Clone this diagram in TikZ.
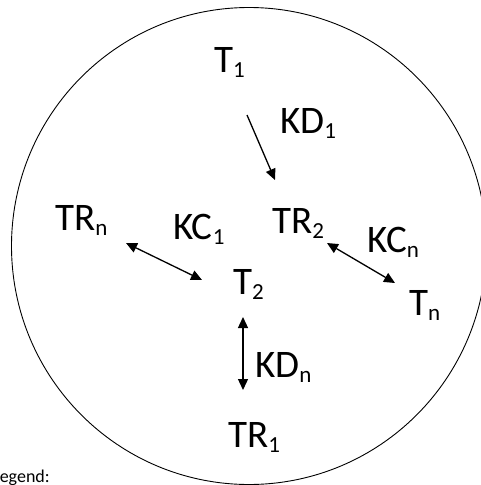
\documentclass[tikz,border=0pt]{standalone}
\usepackage{fontspec}
\setmainfont{Carlito}
\usetikzlibrary{arrows.meta}
\newcommand\sbs[1]{\raisebox{-5pt}{\fontsize{23}{23}\selectfont #1}}
\tikzset{
  lbl/.style={inner sep=0pt, anchor=base west, font=\fontsize{39}{44}\selectfont},
  legendtxt/.style={inner sep=0pt, anchor=base west, font=\fontsize{18}{20}\selectfont},
  conn/.style={line width=1.3pt, -{Triangle[length=11pt,width=10pt]}},
  dconn/.style={line width=1.3pt, {Triangle[length=11pt,width=10pt]}-{Triangle[length=11pt,width=10pt]}},
}
\begin{document}
\begin{tikzpicture}[x=1pt,y=-1pt]
\useasboundingbox (0,0) rectangle (480,485);
\draw[line width=0.9pt] (249,246) ellipse [x radius=237.5, y radius=238.5];
\node[lbl] (t1) at (214,72) {T\sbs{1}};
\node[lbl] (kd1) at (280,133) {KD\sbs{1}};
\node[lbl] (tr2) at (272,233) {TR\sbs{2}};
\node[lbl] (trn) at (55,230) {TR\sbs{n}};
\node[lbl] (kc1) at (173,239) {KC\sbs{1}};
\node[lbl] (t2) at (233,294) {T\sbs{2}};
\node[lbl] (kcn) at (367,252) {KC\sbs{n}};
\node[lbl] (tn) at (409,315) {T\sbs{n}};
\node[lbl] (kdn) at (255,377) {KD\sbs{n}};
\node[lbl] (tr1) at (228,447) {TR\sbs{1}};
\node[legendtxt] (leg) at (-8,482) {Legend:};
\coordinate (a1s) at (247,115);
\coordinate (a1e) at (275,180);
\coordinate (a2s) at (126,243);
\coordinate (a2e) at (202,280);
\coordinate (a3s) at (327,243);
\coordinate (a3e) at (395,283);
\coordinate (a4s) at (243,317);
\coordinate (a4e) at (243,390);
\draw[conn] (a1s) -- (a1e);
\draw[dconn] (a2s) -- (a2e);
\draw[dconn] (a3s) -- (a3e);
\draw[dconn] (a4s) -- (a4e);
\end{tikzpicture}
\end{document}
